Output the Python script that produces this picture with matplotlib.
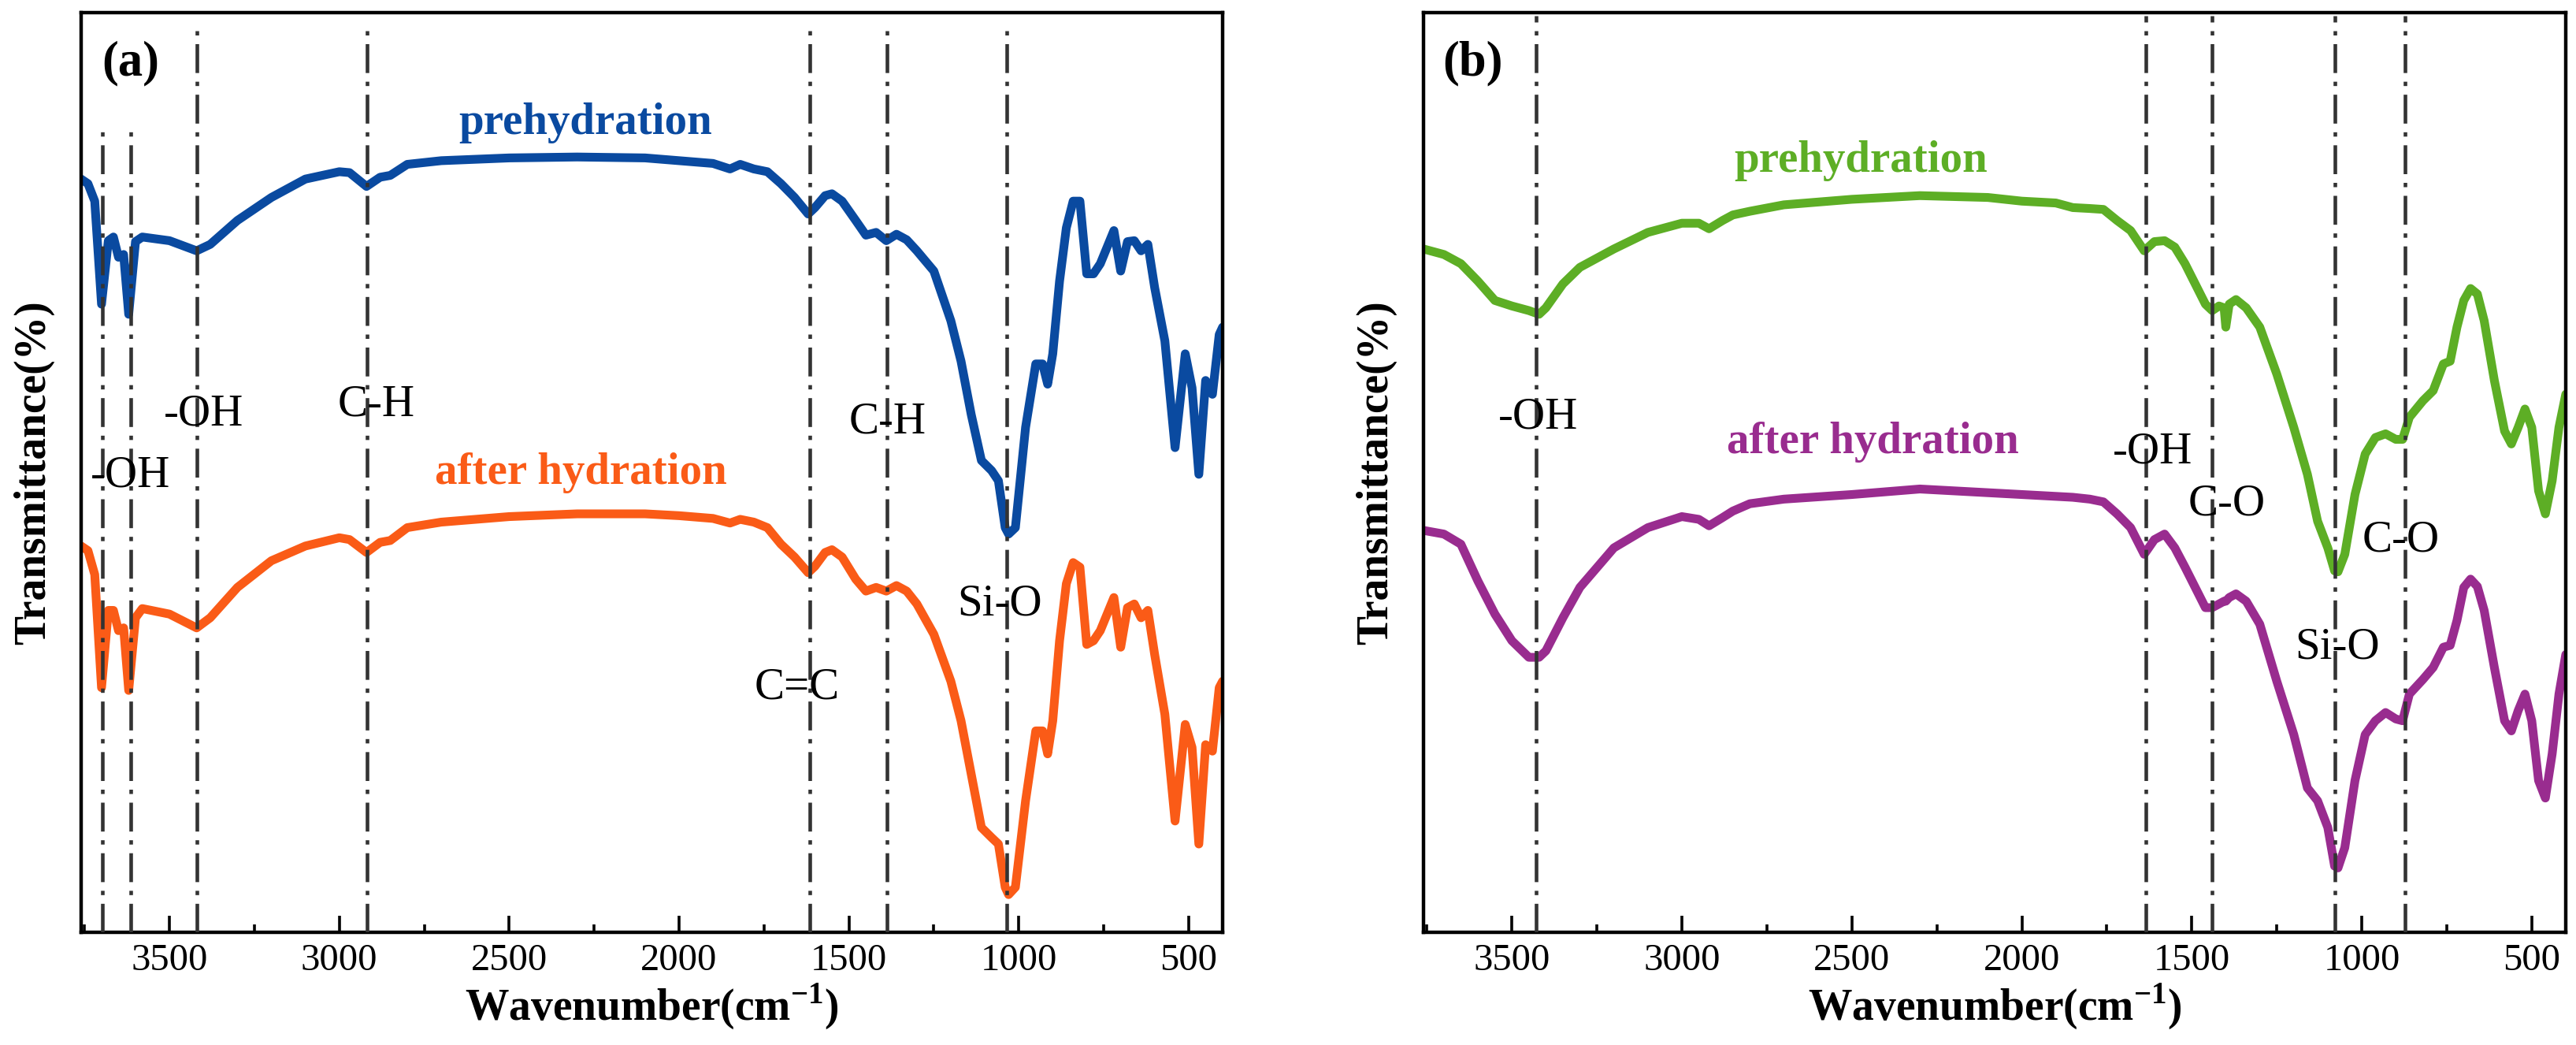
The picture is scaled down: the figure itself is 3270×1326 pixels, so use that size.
"""FTIR spectra before/after hydration, two panels (a) and (b)."""

import matplotlib

matplotlib.use("Agg")

import matplotlib.pyplot as plt
from matplotlib.axes import Axes
from matplotlib.ticker import MultipleLocator

plt.rcParams["font.family"] = ["Liberation Serif", "DejaVu Serif"]
plt.rcParams["mathtext.fontset"] = "custom"
plt.rcParams["mathtext.rm"] = "Liberation Serif"
plt.rcParams["mathtext.bf"] = "Liberation Serif:bold"

# ---- panel (a) -------------------------------------------------------------
wn_a = [3760, 3740, 3720, 3700, 3680, 3665, 3650, 3635, 3620, 3600,
        3580, 3500, 3420, 3380, 3300, 3200, 3100, 3000, 2970, 2920,
        2880, 2850, 2800, 2700, 2500, 2300, 2100, 2000, 1900, 1850,
        1820, 1780, 1740, 1700, 1660, 1620, 1600, 1570, 1550, 1520,
        1480, 1450, 1420, 1390, 1360, 1330, 1300, 1250, 1200, 1170,
        1140, 1110, 1080, 1060, 1040, 1030, 1010, 980, 950, 930,
        915, 900, 880, 860, 840, 820, 800, 780, 760, 740,
        720, 700, 680, 660, 640, 620, 600, 570, 540, 510,
        490, 470, 450, 430, 410, 400]
pre_a = [81.9, 81.4, 79.5, 68.3, 75.2, 75.6, 73.4, 73.7, 67.2, 75.1,
         75.6, 75.2, 74.1, 74.8, 77.4, 79.9, 81.9, 82.7, 82.6, 81.1,
         82.1, 82.3, 83.5, 83.9, 84.2, 84.3, 84.2, 83.9, 83.6, 83.0,
         83.5, 83.0, 82.7, 81.4, 79.9, 78.1, 78.8, 80.1, 80.3, 79.5,
         77.4, 75.8, 76.1, 75.2, 75.9, 75.3, 74.1, 71.9, 66.5, 62.1,
         56.3, 51.3, 50.2, 49.1, 44.0, 43.3, 44.0, 54.9, 61.8, 61.8,
         59.6, 62.9, 70.8, 76.6, 79.5, 79.5, 71.6, 71.6, 72.7, 74.5,
         76.3, 71.9, 75.1, 75.2, 74.1, 74.8, 70.1, 64.3, 52.7, 62.9,
         59.2, 49.8, 60.0, 58.5, 65.0, 65.8]
post_a = [42.0, 41.5, 38.9, 26.6, 35.0, 35.0, 32.8, 33.1, 26.3, 34.2,
          35.2, 34.6, 33.1, 34.2, 37.5, 40.4, 42.0, 42.9, 42.7, 41.3,
          42.4, 42.6, 44.0, 44.6, 45.2, 45.5, 45.5, 45.3, 45.0, 44.5,
          44.9, 44.6, 44.0, 42.2, 40.8, 39.1, 39.8, 41.3, 41.6, 40.8,
          38.4, 37.1, 37.5, 37.1, 37.7, 37.1, 35.7, 32.4, 27.3, 23.0,
          17.2, 11.4, 10.3, 9.6, 4.9, 4.1, 4.9, 14.3, 21.9, 21.9,
          19.4, 23.0, 31.7, 37.9, 40.2, 39.7, 31.3, 31.7, 32.8, 34.6,
          36.4, 31.0, 35.3, 35.7, 34.2, 35.0, 30.2, 23.7, 12.1, 22.6,
          20.1, 9.6, 20.4, 19.7, 26.6, 27.3]
peaks_a = [3698, 3615, 3418, 2919, 1615, 1388, 1035]
peak_tops_a = [0.872, 0.872, 0.988, 0.986, 0.99, 0.99, 0.99]
labels_a = ["prehydration", "after hydration", "-OH", "-OH", "C-H", "C-H", "Si-O", "C=C"]
label_wn_a = [2276, 2288, 3614, 3400, 2892, 1387, 1055, 1654]
label_t_a = [88.0, 50.0, 49.7, 56.3, 57.4, 55.5, 35.7, 26.6]

# ---- panel (b) -------------------------------------------------------------
wn_b = [3760, 3700, 3650, 3600, 3550, 3500, 3450, 3420, 3400, 3350,
        3300, 3200, 3100, 3000, 2950, 2920, 2880, 2850, 2800, 2700,
        2500, 2300, 2100, 2000, 1900, 1850, 1800, 1760, 1720, 1680,
        1640, 1610, 1580, 1550, 1520, 1490, 1460, 1440, 1420, 1405,
        1400, 1390, 1370, 1340, 1300, 1250, 1200, 1160, 1130, 1100,
        1080, 1070, 1050, 1020, 990, 960, 930, 900, 880, 860,
        820, 790, 760, 740, 720, 700, 680, 660, 640, 610,
        580, 560, 540, 520, 500, 480, 460, 440, 420, 400]
pre_b = [74.3, 73.7, 72.7, 70.8, 68.7, 68.1, 67.6, 67.2, 67.9, 70.5,
         72.3, 74.3, 76.1, 77.1, 77.1, 76.5, 77.4, 78.0, 78.4, 79.1,
         79.7, 80.1, 79.9, 79.5, 79.3, 78.8, 78.7, 78.6, 77.4, 76.3,
         74.1, 75.1, 75.2, 74.5, 72.7, 70.5, 68.3, 67.6, 68.1, 67.9,
         65.8, 68.3, 68.8, 67.9, 65.8, 60.7, 54.9, 49.8, 44.7, 41.8,
         39.3, 39.2, 41.1, 47.6, 52.0, 53.8, 54.2, 53.6, 53.6, 56.0,
         57.8, 58.9, 61.8, 62.1, 65.8, 68.7, 70.0, 69.4, 66.5, 60.0,
         54.5, 53.1, 54.9, 56.9, 54.9, 48.0, 45.5, 49.1, 54.9, 58.5]
post_b = [43.7, 43.3, 42.2, 38.2, 34.6, 31.7, 29.9, 29.9, 30.6, 34.2,
          37.5, 41.8, 44.0, 45.2, 44.9, 44.2, 45.1, 45.8, 46.6, 47.1,
          47.6, 48.2, 47.8, 47.6, 47.4, 47.3, 47.1, 46.8, 45.5, 44.0,
          41.1, 42.7, 43.3, 41.8, 39.7, 37.5, 35.3, 35.3, 35.7, 36.0,
          36.0, 36.4, 36.8, 36.0, 33.5, 27.3, 21.5, 15.7, 14.3, 11.4,
          7.2, 7.0, 9.2, 16.5, 21.5, 23.0, 23.9, 23.2, 23.0, 25.9,
          27.5, 28.8, 31.0, 31.2, 33.9, 37.5, 38.4, 37.6, 35.0, 28.8,
          23.0, 21.9, 24.1, 25.9, 23.0, 16.5, 14.6, 19.4, 25.9, 30.2]
peaks_b = [3428, 1635, 1440, 1080, 872]
peak_tops_b = [0.997, 0.997, 0.997, 0.997, 0.997]
labels_b = ["prehydration", "after hydration", "-OH", "-OH", "C-O", "C-O", "Si-O"]
label_wn_b = [2474, 2438, 3423, 1615, 1398, 884, 1072]
label_t_b = [83.9, 53.3, 56.0, 52.2, 46.6, 42.6, 31.0]

X_RANGE = (3760, 400)
DASH_DOT = (0, (8, 2.4, 1.2, 2.4))
LINE_GRAY = "#333333"


def _draw_panel(axis: Axes, wn, pre, post, colors, peaks, tops,
                labels, label_wn, label_t, tag):
    axis.plot(wn, pre, color=colors[0], linewidth=8, solid_joinstyle="round",
              solid_capstyle="round", zorder=2)
    axis.plot(wn, post, color=colors[1], linewidth=8, solid_joinstyle="round",
              solid_capstyle="round", zorder=2)
    for peak, top in zip(peaks, tops):
        axis.axvline(peak, ymin=0.0, ymax=top, color=LINE_GRAY,
                     linewidth=3.3, linestyle=DASH_DOT, zorder=3)

    for idx, (text, x, y) in enumerate(zip(labels, label_wn, label_t)):
        if idx < 2:
            axis.text(x, y, text, color=colors[idx], fontsize=41,
                      fontweight="bold", ha="center", va="center", zorder=4)
        else:
            axis.text(x, y, text, color="black", fontsize=41,
                      ha="center", va="center", zorder=4)

    axis.text(0.043, 0.945, tag, transform=axis.transAxes, fontsize=45,
              fontweight="bold", ha="center", va="center")

    axis.set_xlim(*X_RANGE)
    axis.set_ylim(0, 100)
    axis.xaxis.set_major_locator(MultipleLocator(500))
    axis.xaxis.set_minor_locator(MultipleLocator(250))
    axis.set_yticks([])
    axis.tick_params(axis="x", which="major", direction="in", length=15,
                     width=2.6, labelsize=35, pad=10)
    axis.tick_params(axis="x", which="minor", direction="in", length=7.5,
                     width=2.6)
    for spine in axis.spines.values():
        spine.set_linewidth(3.2)
    axis.set_xlabel(r"Wavenumber(cm$^{\mathbf{-1}}$)", fontsize=40,
                    fontweight="bold", labelpad=4)
    axis.set_ylabel("Transmittance(%)", fontsize=40, fontweight="bold",
                    labelpad=24)


fig = plt.figure(figsize=(32.7, 13.26), dpi=100)
ax_a = fig.add_axes([103 / 3270, 143 / 1326, 1449 / 3270, 1167 / 1326])
ax_b = fig.add_axes([1807 / 3270, 143 / 1326, 1450 / 3270, 1167 / 1326])

_draw_panel(ax_a, wn_a, pre_a, post_a, ("#0a4aa0", "#fa5b17"), peaks_a,
            peak_tops_a, labels_a, label_wn_a, label_t_a, "(a)")
_draw_panel(ax_b, wn_b, pre_b, post_b, ("#5dae25", "#992c8f"), peaks_b,
            peak_tops_b, labels_b, label_wn_b, label_t_b, "(b)")

fig.savefig("out.png", dpi=100)
plt.close(fig)
